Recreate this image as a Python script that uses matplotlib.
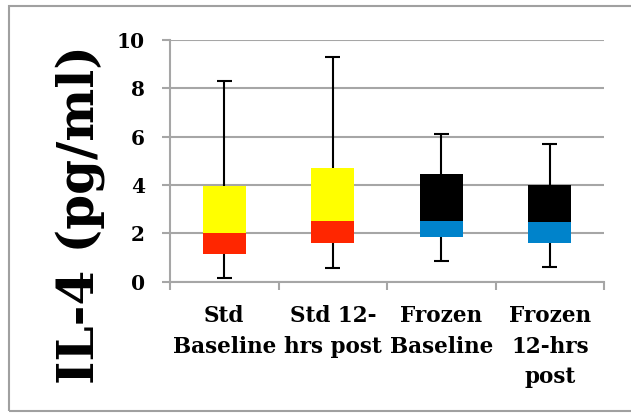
import numpy as np
import matplotlib
matplotlib.use("Agg")
import matplotlib.pyplot as plt
from matplotlib.patches import Rectangle

# box plot data (IL-4 pg/ml)
categories = ["Std\nBaseline", "Std 12-\nhrs post", "Frozen\nBaseline", "Frozen\n12-hrs\npost"]
mins = [0.14, 0.57, 0.87, 0.62]
q1s = [1.13, 1.59, 1.86, 1.61]
medians = [2.0, 2.51, 2.52, 2.47]
q3s = [3.97, 4.70, 4.47, 4.01]
maxs = [8.29, 9.31, 6.11, 5.68]
lower_colors = ["#FF2600", "#FF2600", "#0083CB", "#0083CB"]
upper_colors = ["#FFFF00", "#FFFF00", "#000000", "#000000"]
yticks = [0, 2, 4, 6, 8, 10]

plt.rcParams["font.family"] = ["DejaVu Serif"]
plt.rcParams["font.weight"] = "bold"

fig = plt.figure(figsize=(6.31, 4.13), dpi=100)
ax = fig.add_axes([170 / 631, 1 - 281.7 / 413, 434 / 631, 241.7 / 413])

x = np.arange(len(categories))
grid_c = "#A6A6A6"

# whiskers
ax.vlines(x, mins, maxs, color="black", lw=1.5, zorder=2)
ax.hlines(maxs, x - 0.07, x + 0.07, color="black", lw=1.5, zorder=2)
ax.hlines(mins, x - 0.07, x + 0.07, color="black", lw=1.5, zorder=2)

# boxes
lo = np.array(medians) - np.array(q1s)
hi = np.array(q3s) - np.array(medians)
ax.bar(x, lo, bottom=q1s, width=0.4, color=lower_colors, zorder=3)
ax.bar(x, hi, bottom=medians, width=0.4, color=upper_colors, zorder=3)

ax.set_xlim(-0.5, len(categories) - 0.5)
ax.set_ylim(0, 10)
ax.set_yticks(yticks)
ax.set_yticklabels([str(v) for v in yticks], fontsize=14.5, fontweight="bold")
ax.yaxis.grid(True, color=grid_c, lw=1.5, zorder=0)
ax.set_axisbelow(True)

# x ticks at boundaries, labels at centers
ax.set_xticks(np.arange(-0.5, len(categories)), labels=[""] * (len(categories) + 1))
ax.set_xticks(x, minor=True)
ax.set_xticklabels(categories, minor=True, fontsize=15.5, fontweight="bold",
                   linespacing=1.5, va="top")
ax.tick_params(axis="x", which="minor", length=0, pad=17)
ax.tick_params(axis="x", which="major", length=6, width=1.5, color=grid_c, direction="out")
ax.tick_params(axis="y", length=6, width=1.5, color=grid_c, pad=12)

for s in ["top", "right"]:
    ax.spines[s].set_visible(False)
for s in ["left", "bottom"]:
    ax.spines[s].set_color(grid_c)
    ax.spines[s].set_linewidth(1.5)

fig.text(80 / 631, 1 - 215 / 413, "IL-4 (pg/ml)", rotation=90, ha="center",
         va="center", fontsize=36, fontweight="bold")

# outer chart border
fig.patches.append(Rectangle((9 / 631, 2 / 413), 1.0, 405 / 413, transform=fig.transFigure,
                             fill=False, edgecolor="#A0A0A0", lw=1.5))

fig.savefig("out.png", dpi=100)
